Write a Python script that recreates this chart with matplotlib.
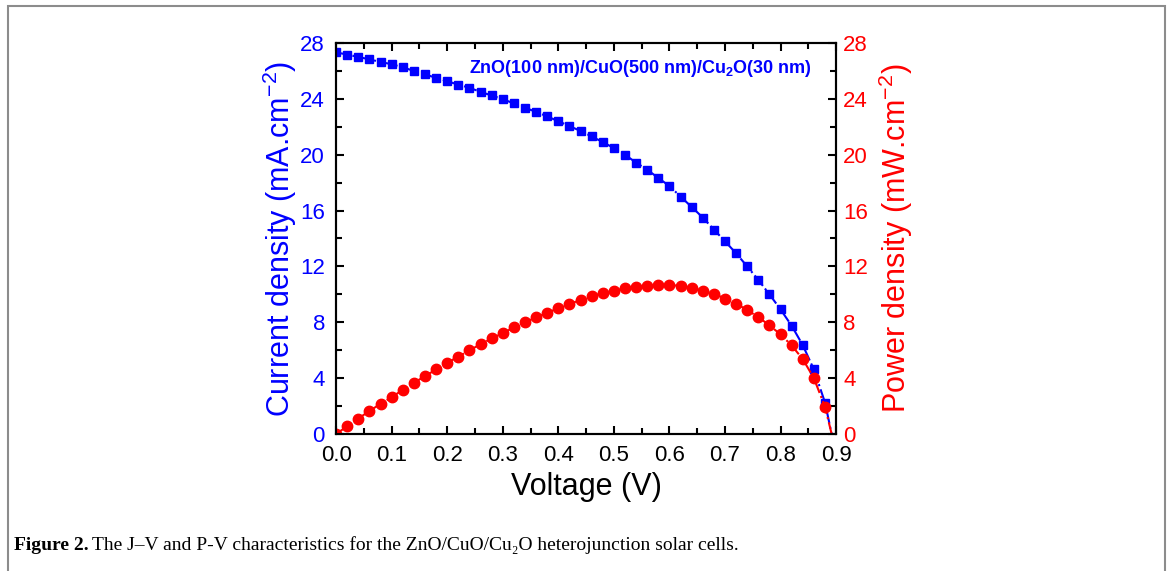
import matplotlib
matplotlib.use("Agg")
import matplotlib.pyplot as plt
import numpy as np
from matplotlib.patches import Rectangle
from matplotlib.ticker import MultipleLocator

plt.rcParams['font.family'] = ['Liberation Sans', 'DejaVu Sans']
plt.rcParams['mathtext.fontset'] = 'custom'
plt.rcParams['mathtext.rm'] = 'Liberation Sans'
plt.rcParams['mathtext.bf'] = 'Liberation Sans:bold'

# measured points, 0.02 V steps
voltage = [0.00, 0.02, 0.04, 0.06, 0.08, 0.10, 0.12, 0.14, 0.16, 0.18,
           0.20, 0.22, 0.24, 0.26, 0.28, 0.30, 0.32, 0.34, 0.36, 0.38,
           0.40, 0.42, 0.44, 0.46, 0.48, 0.50, 0.52, 0.54, 0.56, 0.58,
           0.60, 0.62, 0.64, 0.66, 0.68, 0.70, 0.72, 0.74, 0.76, 0.78,
           0.80, 0.82, 0.84, 0.86, 0.88]
current = [27.33, 27.17, 27.00, 26.83, 26.64, 26.48, 26.26, 26.00, 25.76, 25.50,
           25.26, 25.02, 24.79, 24.50, 24.24, 23.98, 23.67, 23.36, 23.07, 22.74,
           22.40, 22.05, 21.70, 21.31, 20.90, 20.48, 20.00, 19.43, 18.93, 18.33,
           17.76, 17.00, 16.26, 15.50, 14.64, 13.80, 12.94, 12.00, 11.03, 10.00,
           8.92, 7.75, 6.36, 4.62, 2.25]
power = [0.00, 0.55, 1.10, 1.65, 2.15, 2.63, 3.16, 3.66, 4.14, 4.62,
         5.10, 5.53, 6.00, 6.41, 6.84, 7.22, 7.63, 7.99, 8.35, 8.68,
         9.00, 9.31, 9.59, 9.86, 10.10, 10.26, 10.43, 10.55, 10.62, 10.67,
         10.67, 10.60, 10.48, 10.26, 10.05, 9.69, 9.33, 8.88, 8.37, 7.78,
         7.13, 6.34, 5.36, 4.00, 1.94]
v_oc = 0.892  # where both fitted lines reach zero

blue = '#0000ff'
red = '#ff0000'

fig = plt.figure(figsize=(11.71, 5.71), dpi=100)
ax = fig.add_axes([0.287, 0.240, 0.427, 0.6847])
ax2 = ax.twinx()

ax.plot(voltage + [v_oc], current + [0], color=blue, ls='-.', lw=1.5)
ax.plot(voltage, current, 's', color=blue, ms=6.3)
ax2.plot(voltage + [v_oc], power + [0], color=red, ls='-.', lw=1.5)
ax2.plot(voltage, power, 'o', color=red, ms=7.5)

ax.set_xlim(0, 0.9)
ax.set_ylim(0, 28)
ax2.set_ylim(0, 28)
ax.xaxis.set_major_locator(MultipleLocator(0.1))
ax.xaxis.set_minor_locator(MultipleLocator(0.05))
for a in (ax, ax2):
    a.yaxis.set_major_locator(MultipleLocator(4))
    a.yaxis.set_minor_locator(MultipleLocator(2))
    for s in a.spines.values():
        s.set_linewidth(1.5)

ax.tick_params(which='both', direction='in', top=True, width=1.5, labelsize=16)
ax.tick_params(which='major', length=6)
ax.tick_params(which='minor', length=4)
ax.tick_params(axis='x', pad=8)
ax.tick_params(axis='y', labelcolor=blue, pad=8)
ax2.tick_params(which='both', direction='in', width=1.5, labelsize=16, labelcolor=red, pad=5)
ax2.tick_params(which='major', length=6)
ax2.tick_params(which='minor', length=4)

ax.set_xticklabels(['%.1f' % t for t in ax.get_xticks()])

ax.set_xlabel('Voltage (V)', fontsize=22, labelpad=4)
ax.set_ylabel('Current density (mA.cm$^{-2}$)', fontsize=22, color=blue, labelpad=1)
ax2.set_ylabel('Power density (mW.cm$^{-2}$)', fontsize=22, color=red, labelpad=6)

ax.text(0.547, 26.2, r'ZnO(100 nm)/CuO(500 nm)/Cu$_\mathbf{2}$O(30 nm)',
        color=blue, fontsize=13, fontweight='bold', ha='center', va='center')

# page frame
fig.add_artist(Rectangle((8 / 1171, -0.05), 1157 / 1171, 1 - 6 / 571 + 0.05,
                         transform=fig.transFigure, fill=False,
                         edgecolor='#8c8c8c', lw=1.5))

serif = ['Liberation Serif', 'DejaVu Serif']
t1 = fig.text(14 / 1171, 1 - 545 / 571, 'Figure 2.', family=serif,
              fontweight='bold', fontsize=14, va='center')
fig.canvas.draw()
bb = t1.get_window_extent()
fig.text(bb.x1 / fig.bbox.width + 0.003, 1 - 545 / 571,
         'The J\u2013V and P-V characteristics for the ZnO/CuO/Cu\u2082O heterojunction solar cells.',
         family=serif, fontsize=14, va='center')

fig.savefig('out.png', dpi=100)
